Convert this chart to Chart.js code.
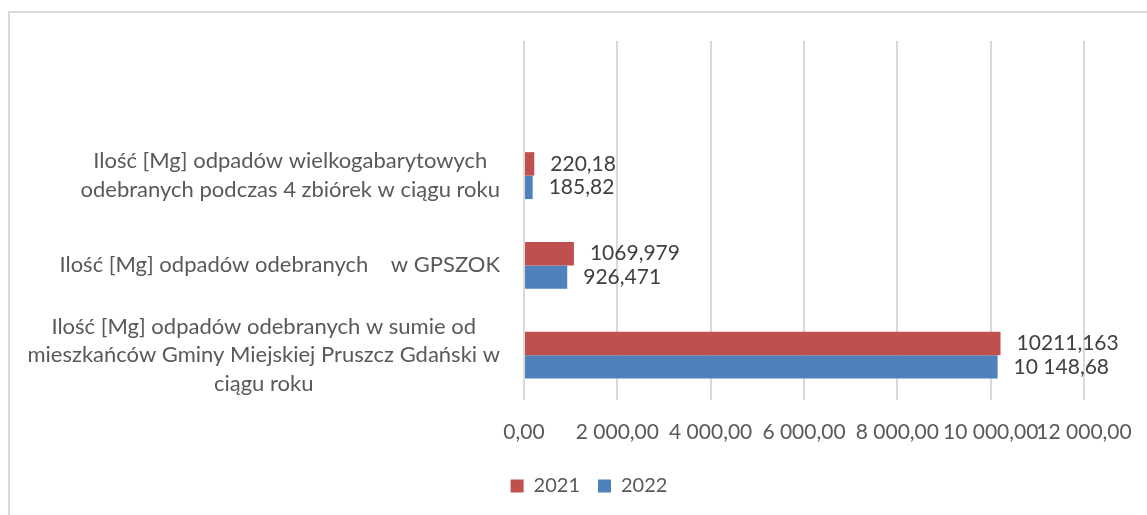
<!DOCTYPE html>
<html lang="pl">
<head>
<meta charset="utf-8">
<title>Odpady 2021 / 2022</title>
<script src="https://cdn.jsdelivr.net/npm/chart.js@4/dist/chart.umd.min.js"></script>
<style>
    html, body { margin: 0; padding: 0; background: #fff; overflow: hidden; }
    #frame {
        position: absolute; left: 8px; top: 11px;
        width: 1158px; height: 502px;
        border: 2px solid #d9d9d9;
    }
    canvas { display: block; }
</style>
</head>
<body>
<div id="frame"><canvas id="chart" width="1158" height="502"></canvas></div>
<script>
// top row is empty in the original sheet, keeps the gap above the first group
const categories = [
    '',
    ['Ilość [Mg] odpadów wielkogabarytowych', 'odebranych podczas 4 zbiórek w ciągu roku'],
    ['Ilość [Mg] odpadów odebranych    w GPSZOK'],
    ['Ilość [Mg] odpadów odebranych w sumie od', 'mieszkańców Gminy Miejskiej Pruszcz Gdański w', 'ciągu roku']
];
const values2021 = [null, 220.18, 1069.979, 10211.163];
const values2022 = [null, 185.82, 926.471, 10148.68];
const text2021 = ['', '220,18', '1069,979', '10211,163'];
const text2022 = ['', '185,82', '926,471', '10 148,68'];
const xTicks = [0, 2000, 4000, 6000, 8000, 10000, 12000];

const RED = '#C0504D';
const BLUE = '#4F81BD';
const FONT = 'Lato';

function fmt(v) {
    const [i, d] = v.toFixed(2).split('.');
    return i.replace(/\B(?=(\d{3})+(?!\d))/g, ' ') + ',' + d;
}

// category labels: block right aligned, lines centered inside the block (like Excel)
const yLabels = {
    id: 'yLabels',
    afterDraw(chart) {
        const ctx = chart.ctx;
        const y = chart.scales.y;
        ctx.save();
        ctx.font = `22px ${FONT}`;
        ctx.fillStyle = '#595959';
        ctx.textAlign = 'center';
        ctx.textBaseline = 'middle';
        categories.forEach((lab, i) => {
            const lines = [].concat(lab).filter(l => l !== '');
            if (!lines.length) return;
            const w = Math.max(...lines.map(l => ctx.measureText(l).width));
            const cx = 490 - w / 2;
            const cy = y.getPixelForTick(i);
            lines.forEach((l, j) => ctx.fillText(l, cx, cy + (j - (lines.length - 1) / 2) * 28.5));
        });
        ctx.restore();
    }
};

const barLabels = {
    id: 'barLabels',
    afterDatasetsDraw(chart) {
        const ctx = chart.ctx;
        const texts = [text2021, text2022];
        ctx.save();
        ctx.font = `21px ${FONT}`;
        ctx.fillStyle = '#404040';
        ctx.textAlign = 'left';
        ctx.textBaseline = 'middle';
        chart.data.datasets.forEach((ds, di) => {
            chart.getDatasetMeta(di).data.forEach((bar, i) => {
                if (ds.data[i] == null) return;
                ctx.fillText(texts[di][i], bar.x + 16, bar.y);
            });
        });
        ctx.restore();
    }
};

new Chart(document.getElementById('chart'), {
    type: 'bar',
    data: {
        labels: categories,
        datasets: [
            { label: '2021', data: values2021, backgroundColor: RED },
            { label: '2022', data: values2022, backgroundColor: BLUE }
        ]
    },
    options: {
        indexAxis: 'y',
        responsive: false,
        animation: false,
        devicePixelRatio: 1,
        categoryPercentage: 0.523,
        barPercentage: 1,
        layout: { padding: { top: 28, right: 84, left: 84, bottom: 9 } },
        scales: {
            x: {
                min: 0,
                max: 12000,
                afterBuildTicks: s => { s.ticks = xTicks.map(v => ({ value: v })); },
                afterFit: s => { s.height = 58; },
                border: { display: false },
                grid: { color: '#d9d9d9', lineWidth: 2, drawTicks: false },
                ticks: {
                    autoSkip: false,
                    maxRotation: 0,
                    minRotation: 0,
                    padding: 20,
                    color: '#595959',
                    font: { family: FONT, size: 21 },
                    callback: v => fmt(v)
                }
            },
            y: {
                afterFit: s => { s.width = 430; },
                border: { display: false },
                grid: { display: false },
                ticks: { display: false }
            }
        },
        plugins: {
            legend: {
                position: 'bottom',
                labels: {
                    boxWidth: 13,
                    boxHeight: 13,
                    padding: 18,
                    color: '#595959',
                    font: { family: FONT, size: 20 }
                }
            },
            tooltip: { enabled: false }
        }
    },
    plugins: [yLabels, barLabels]
});
</script>
</body>
</html>
